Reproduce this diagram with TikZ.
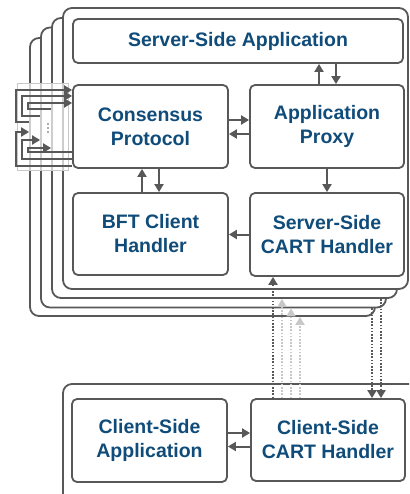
\documentclass[tikz,border=0pt]{standalone}
\usepackage{fontspec}
\setmainfont{Liberation Sans}
\usetikzlibrary{arrows.meta,calc}
\definecolor{linegray}{RGB}{88,88,88}
\definecolor{lightgray2}{RGB}{200,200,200}
\definecolor{txtblue}{RGB}{16,76,122}
\tikzset{
  frame/.style={draw=linegray,line width=1.8pt,fill=white,rounded corners=9pt,inner sep=0pt},
  box/.style={draw=linegray,line width=1.8pt,fill=white,rounded corners=5pt,align=center,
    text=txtblue,font=\bfseries\fontsize{19.5}{24}\selectfont,inner sep=0pt},
  arr/.style={draw=linegray,line width=2pt,-{Triangle[length=8pt,width=9pt]}},
  darkdot/.style={draw=linegray,line width=2pt,dash pattern=on 1.6pt off 1.6pt,-{Triangle[length=8pt,width=9pt]}},
  lightdot/.style={draw=lightgray2,line width=2pt,dash pattern=on 1.6pt off 1.6pt,-{Triangle[length=8pt,width=9pt]}},
}
\begin{document}
\begin{tikzpicture}[x=1pt,y=-1pt]
\useasboundingbox (0,0) rectangle (409,494);
\clip (0,0) rectangle (409,494);
% stacked replica frames (back to front)
\node[frame,minimum width=345pt,minimum height=278pt] (f4) at (202.5,177) {};
\node[frame,minimum width=345pt,minimum height=280pt] (f3) at (213.5,167.5) {};
\node[frame,minimum width=345pt,minimum height=280pt] (f2) at (224.5,158) {};
\node[frame,minimum width=345pt,minimum height=281pt] (f1) at (235.5,148.5) {};
% client frame
\node[frame,minimum width=357pt,minimum height=121pt] (cf) at (241.5,444.5) {};
% translucent overlay on left
\fill[white,opacity=0.7] (17,83) rectangle (68,170);
\draw[lightgray2,line width=0.6pt] (17,83) rectangle (68,170);
% boxes
\node[box,minimum width=330pt,minimum height=44pt] (ssa) at (238,41) {Server-Side Application};
\node[box,minimum width=155pt,minimum height=83pt] (cons) at (150.5,126.5) {Consensus\\Protocol};
\node[box,minimum width=154pt,minimum height=83pt] (proxy) at (327,126.5) {Application\\Proxy};
\node[box,minimum width=155pt,minimum height=82pt] (bft) at (150.5,234) {BFT Client\\Handler};
\node[box,minimum width=154pt,minimum height=83pt] (scart) at (327,234.5) {Server-Side\\CART Handler};
\node[box,minimum width=155pt,minimum height=83pt] (capp) at (149.5,440.5) {Client-Side\\Application};
\node[box,minimum width=154pt,minimum height=82pt] (ccart) at (328,440) {Client-Side\\CART Handler};
% solid arrows
\draw[arr] ([xshift=-8pt]proxy.north) -- ([xshift=-8pt]proxy.north |- ssa.south);
\draw[arr] ([xshift=9pt]ssa.south -| proxy.north) -- ([xshift=9pt]proxy.north);
\draw[arr] ([yshift=6.5pt]cons.east) -- ([yshift=6.5pt]cons.east -| proxy.west);
\draw[arr] ([yshift=-7.5pt]proxy.west) -- ([yshift=-7.5pt]proxy.west -| cons.east);
\draw[arr] (proxy.south) -- (proxy.south |- scart.north);
\draw[arr] ([xshift=-8.5pt]bft.north) -- ([xshift=-8.5pt]bft.north |- cons.south);
\draw[arr] ([xshift=8.5pt]cons.south) -- ([xshift=8.5pt]cons.south |- bft.north);
\draw[arr] (scart.west) -- (scart.west -| bft.east);
\draw[arr] ([yshift=7.5pt]capp.east) -- ([yshift=7.5pt]capp.east -| ccart.west);
\draw[arr] ([yshift=-6.5pt]ccart.west) -- ([yshift=-6.5pt]ccart.west -| capp.east);
% consensus loops: incoming
\draw[arr] (f4.west |- 0,122) -| (16,90) -- (cons.west |- 0,90);
\draw[arr] (f3.west |- 0,116) -| (22,96) -- (cons.west |- 0,96);
\draw[arr] (f2.west |- 0,109) -| (28,103) -- (cons.west |- 0,103);
% consensus loops: outgoing
\draw[arr] (cons.west |- 0,166) -| (16,132) -- (f4.west |- 0,132);
\draw[arr] (cons.west |- 0,159) -| (22,140) -- (f3.west |- 0,140);
\draw[arr] (cons.west |- 0,152) -| (28,148) -- (f2.west |- 0,148);
% dots
\foreach \yy in {124,128,132} \fill[linegray] (48,\yy) circle (0.9pt);
% dotted CART links
\draw[darkdot] ([xshift=-55pt]ccart.north) -- ([xshift=-55pt]ccart.north |- scart.south);
\draw[lightdot] ([xshift=-46pt]ccart.north) -- ([xshift=-46pt]ccart.north |- f2.south);
\draw[lightdot] ([xshift=-37pt]ccart.north) -- ([xshift=-37pt]ccart.north |- f3.south);
\draw[lightdot] ([xshift=-28pt]ccart.north) -- ([xshift=-28pt]ccart.north |- f4.south);
\draw[darkdot] ([xshift=44pt]ccart.north |- f3.south) -- ([xshift=44pt]ccart.north);
\draw[darkdot] ([xshift=53pt]ccart.north |- f2.south) -- ([xshift=53pt]ccart.north);
\end{tikzpicture}
\end{document}
